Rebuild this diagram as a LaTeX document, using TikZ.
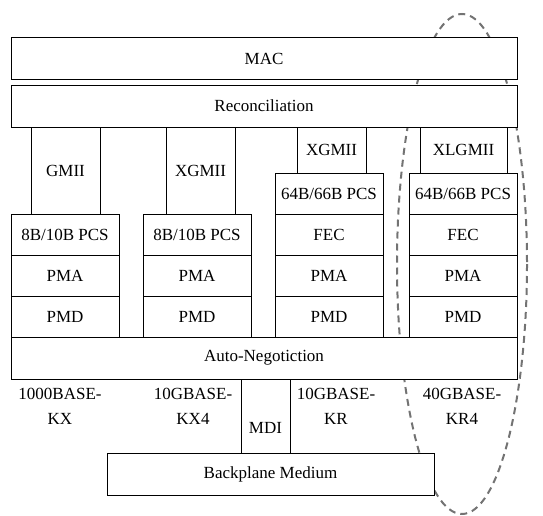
\documentclass[tikz,border=0pt]{standalone}
\usepackage{fontspec}
\setmainfont{Liberation Serif}
\usepackage{tikz}
\usetikzlibrary{positioning}

\begin{document}
\begin{tikzpicture}[x=1pt, y=-1pt,
  layer/.style={rectangle, draw=black, fill=white, line width=0.9pt, inner sep=0pt,
                outer sep=0pt, font=\fontsize{17}{20}\selectfont},
  wide/.style={layer, minimum width=506pt, minimum height=42pt},
  cell/.style={layer, minimum width=108pt, minimum height=41pt},
  ifc/.style={layer, minimum width=69pt},
  lbl/.style={align=center, inner sep=0pt, font=\fontsize{17}{25}\selectfont},
  grp/.style={draw=black!55, line width=2pt, dash pattern=on 7pt off 5pt}
]
\useasboundingbox (0,0) rectangle (543,516);
%% 40G group outline (behind the layers)
\draw[grp] (462,264) ellipse [x radius=65, y radius=250];
%% Common layers
\node[wide] (mac) at (264,58.5) {MAC};
\node[wide] (rec) at (264,106) {Reconciliation};
%% Media independent interfaces
\node[ifc, minimum height=87pt] (gmii)   at (65.5,170.5)  {GMII};
\node[ifc, minimum height=87pt] (xgmiia) at (200.5,170.5) {XGMII};
\node[ifc, minimum height=46pt] (xgmiib) at (331.5,150)   {XGMII};
\node[ifc, minimum height=46pt, minimum width=87pt] (xlgmii) at (463.5,150) {XLGMII};
%% 1000BASE-KX stack
\node[cell] (pcsa) at (65,234.5) {8B/10B PCS};
\node[cell] (pmaa) at (65,275.5) {PMA};
\node[cell] (pmda) at (65,316.5) {PMD};
%% 10GBASE-KX4 stack
\node[cell] (pcsb) at (197,234.5) {8B/10B PCS};
\node[cell] (pmab) at (197,275.5) {PMA};
\node[cell] (pmdb) at (197,316.5) {PMD};
%% 10GBASE-KR stack
\node[cell] (pcsc) at (329,193.5) {64B/66B PCS};
\node[cell] (fecc) at (329,234.5) {FEC};
\node[cell] (pmac) at (329,275.5) {PMA};
\node[cell] (pmdc) at (329,316.5) {PMD};
%% 40GBASE-KR4 stack
\node[cell] (pcsd) at (463,193.5) {64B/66B PCS};
\node[cell] (fecd) at (463,234.5) {FEC};
\node[cell] (pmad) at (463,275.5) {PMA};
\node[cell] (pmdd) at (463,316.5) {PMD};
%% Auto-negotiation and medium
\node[wide] (an) at (264,358) {Auto-Negotiction};
\node[layer, minimum width=49pt, minimum height=74pt] (mdi) at (265.5,416) {};
\node[lbl] (mdilbl) at (265.5,428) {MDI};
\node[layer, minimum width=327pt, minimum height=42pt] (bp) at (270.5,474) {Backplane Medium};
%% PHY type labels
\node[lbl] (kx)  at (60,406)  {1000BASE-\\KX};
\node[lbl] (kx4) at (193,406) {10GBASE-\\KX4};
\node[lbl] (kr)  at (336,406) {10GBASE-\\KR};
\node[lbl] (kr4) at (462,406) {40GBASE-\\KR4};
\end{tikzpicture}
\end{document}
